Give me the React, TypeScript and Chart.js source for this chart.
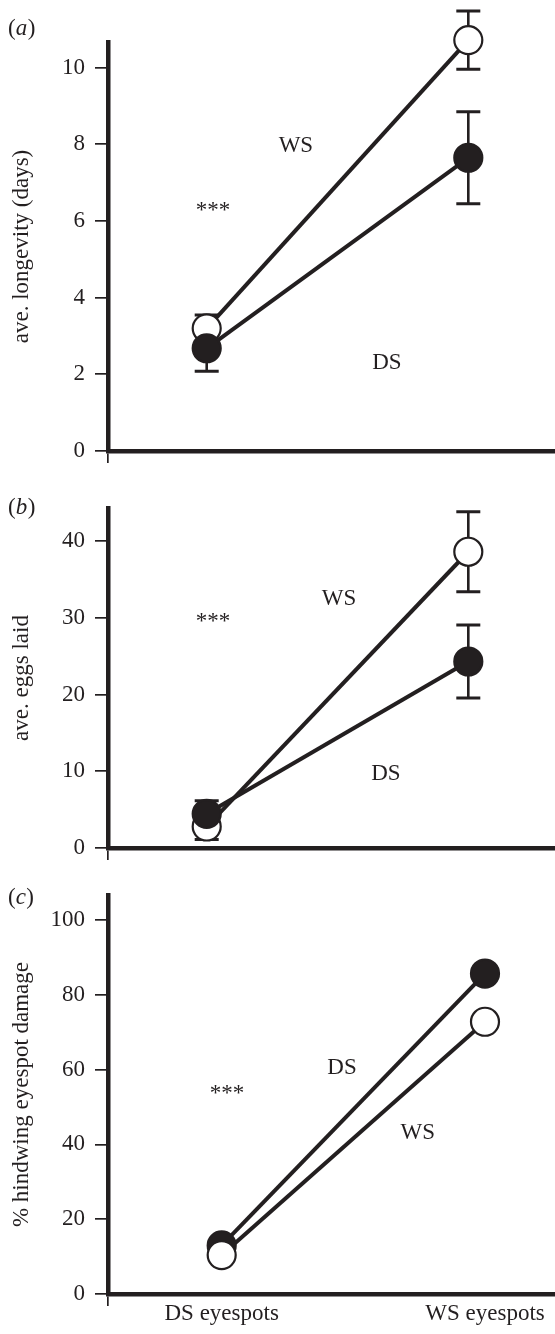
import React, { useEffect, useRef } from 'react';
import { Chart, registerables } from 'chart.js';

Chart.register(...registerables);

const INK = '#231f20';
const FONT = '"Liberation Serif", "Times New Roman", Times, serif';
const FS = 23;

// shared categories (positions 1 and 2 on the x axis)
const xPositions = [1, 2];
const xLabels = ['DS eyespots', 'WS eyespots'];

// (a) average longevity (days)
const longevityDS = [2.68, 7.65];
const longevityDSErr = [0.6, 1.2];
const longevityWS = [3.2, 10.72];
const longevityWSErr = [0.35, 0.76];
const longevityTicks = [0, 2, 4, 6, 8, 10];

// (b) average eggs laid
const eggsDS = [4.45, 24.3];
const eggsDSErr = [1.7, 4.75];
const eggsWS = [2.8, 38.6];
const eggsWSErr = [1.7, 5.2];
const eggsTicks = [0, 10, 20, 30, 40];

// (c) % hindwing eyespot damage
const damageDS = [13.0, 85.7];
const damageWS = [10.4, 72.8];
const damageTicks = [0, 20, 40, 60, 80, 100];

type Note = { text: string; x: number; y: number };
type Panel = {
  letter: string;
  letterBaseline: number;
  top: number;
  height: number;
  areaTop: number;
  areaBottom: number;
  yMax: number;
  xMin: number;
  xMax: number;
  title: string;
  ticks: number[];
  ds: number[];
  dsErr: number[] | null;
  ws: number[];
  wsErr: number[] | null;
  openOnTop: boolean;
  showXLabels: boolean;
  notes: Note[];
};

const panels: Panel[] = [
  {
    letter: 'a', letterBaseline: 35,
    top: 0, height: 470, areaTop: 42, areaBottom: 451, yMax: 10.67,
    xMin: 0.6227, xMax: 2.3314,
    title: 'ave. longevity (days)', ticks: longevityTicks,
    ds: longevityDS, dsErr: longevityDSErr, ws: longevityWS, wsErr: longevityWSErr,
    openOnTop: false, showXLabels: false,
    notes: [
      { text: 'WS', x: 1.341, y: 7.96 },
      { text: '***', x: 1.024, y: 6.25 },
      { text: 'DS', x: 1.689, y: 2.3 },
    ],
  },
  {
    letter: 'b', letterBaseline: 514,
    top: 470, height: 400, areaTop: 508, areaBottom: 848, yMax: 44.3,
    xMin: 0.6227, xMax: 2.3314,
    title: 'ave. eggs laid', ticks: eggsTicks,
    ds: eggsDS, dsErr: eggsDSErr, ws: eggsWS, wsErr: eggsWSErr,
    openOnTop: false, showXLabels: false,
    notes: [
      { text: 'WS', x: 1.506, y: 32.4 },
      { text: '***', x: 1.024, y: 29.4 },
      { text: 'DS', x: 1.685, y: 9.7 },
    ],
  },
  {
    letter: 'c', letterBaseline: 904,
    top: 870, height: 464, areaTop: 895, areaBottom: 1294, yMax: 106.7,
    xMin: 0.5682, xMax: 2.2659,
    title: '% hindwing eyespot damage', ticks: damageTicks,
    ds: damageDS, dsErr: null, ws: damageWS, wsErr: null,
    openOnTop: true, showXLabels: true,
    notes: [
      { text: 'DS', x: 1.457, y: 60.4 },
      { text: '***', x: 1.02, y: 53.6 },
      { text: 'WS', x: 1.745, y: 43.0 },
    ],
  },
];

function PanelChart({ p }: { p: Panel }) {
  const ref = useRef<HTMLCanvasElement | null>(null);

  useEffect(() => {
    const canvas = ref.current;
    if (!canvas) return;
    const errs = [p.dsErr, p.wsErr];

    const errorBars = {
      id: 'errorBars',
      beforeDatasetsDraw(chart: any) {
        const ctx = chart.ctx;
        const ys = chart.scales.y;
        ctx.save();
        ctx.strokeStyle = INK;
        errs.forEach((arr, di) => {
          if (!arr) return;
          const meta = chart.getDatasetMeta(di);
          const vals = chart.data.datasets[di].data as any[];
          meta.data.forEach((pt: any, j: number) => {
            const v = vals[j].y;
            const e = arr[j];
            const x = pt.x;
            const yTop = ys.getPixelForValue(v + e);
            const yBot = ys.getPixelForValue(v - e);
            ctx.lineWidth = 2.6;
            ctx.beginPath();
            ctx.moveTo(x, yTop);
            ctx.lineTo(x, yBot);
            ctx.stroke();
            ctx.lineWidth = 3;
            ctx.beginPath();
            ctx.moveTo(x - 12, yTop);
            ctx.lineTo(x + 12, yTop);
            ctx.moveTo(x - 12, yBot);
            ctx.lineTo(x + 12, yBot);
            ctx.stroke();
          });
        });
        ctx.restore();
      },
    };

    const notes = {
      id: 'notes',
      afterDraw(chart: any) {
        const ctx = chart.ctx;
        const xs = chart.scales.x;
        const ys = chart.scales.y;
        ctx.save();
        ctx.fillStyle = INK;
        ctx.textAlign = 'center';
        ctx.textBaseline = 'middle';
        ctx.font = `${FS}px ${FONT}`;
        p.notes.forEach((n) => {
          ctx.fillText(n.text, xs.getPixelForValue(n.x), ys.getPixelForValue(n.y));
        });
        // panel letter "(a)"
        ctx.textAlign = 'left';
        ctx.textBaseline = 'alphabetic';
        const base = p.letterBaseline - p.top;
        let x = 8;
        ctx.font = `${FS}px ${FONT}`;
        ctx.fillText('(', x, base);
        x += ctx.measureText('(').width;
        ctx.font = `italic ${FS}px ${FONT}`;
        ctx.fillText(p.letter, x, base);
        x += ctx.measureText(p.letter).width + 0.5;
        ctx.font = `${FS}px ${FONT}`;
        ctx.fillText(')', x, base);
        ctx.restore();
      },
    };

    const mk = (vals: number[]) => xPositions.map((x, i) => ({ x, y: vals[i] }));

    const chart = new Chart(canvas, {
      type: 'line',
      data: {
        datasets: [
          {
            label: 'DS',
            data: mk(p.ds),
            borderColor: INK,
            borderWidth: 4,
            pointRadius: 14,
            pointBorderWidth: 2.2,
            pointBackgroundColor: INK,
            pointBorderColor: INK,
            clip: false,
            order: p.openOnTop ? 1 : 0,
          } as any,
          {
            label: 'WS',
            data: mk(p.ws),
            borderColor: INK,
            borderWidth: 4,
            pointRadius: 14,
            pointBorderWidth: 2.2,
            pointBackgroundColor: '#ffffff',
            pointBorderColor: INK,
            clip: false,
            order: p.openOnTop ? 0 : 1,
          } as any,
        ],
      },
      options: {
        responsive: false,
        animation: false,
        devicePixelRatio: 1,
        events: [],
        layout: { autoPadding: false, padding: { top: p.areaTop - p.top, left: 0, right: 0, bottom: 0 } },
        plugins: { legend: { display: false }, tooltip: { enabled: false } },
        scales: {
          x: {
            type: 'linear',
            position: 'bottom',
            min: p.xMin,
            max: p.xMax,
            afterBuildTicks: (s: any) => {
              s.ticks = p.showXLabels
                ? [{ value: p.xMin }, ...xPositions.map((v) => ({ value: v }))]
                : [{ value: p.xMin }];
            },
            afterFit: (s: any) => {
              s.height = p.top + p.height - p.areaBottom;
              s.paddingLeft = 0;
              s.paddingRight = 0;
            },
            grid: {
              drawOnChartArea: false,
              drawTicks: true,
              tickLength: 12,
              lineWidth: 1.7,
              color: (c: any) => (c.index === 0 ? INK : 'rgba(0,0,0,0)'),
            },
            border: { display: true, color: INK, width: 4.5 },
            ticks: {
              display: p.showXLabels,
              autoSkip: false,
              maxRotation: 0,
              padding: -6,
              color: INK,
              font: { family: FONT, size: FS },
              callback: (_v: any, i: number) => (i === 0 ? '' : xLabels[i - 1]),
            },
          },
          y: {
            type: 'linear',
            min: 0,
            max: p.yMax,
            afterBuildTicks: (s: any) => {
              s.ticks = p.ticks.map((v) => ({ value: v }));
            },
            afterFit: (s: any) => {
              s.width = 108;
              s.paddingTop = 0;
              s.paddingBottom = 0;
            },
            grid: { drawOnChartArea: false, drawTicks: true, tickLength: 13, lineWidth: 1.7, color: INK },
            border: { display: true, color: INK, width: 4.5 },
            ticks: {
              autoSkip: false,
              padding: 10,
              color: INK,
              font: { family: FONT, size: FS },
            },
            title: {
              display: true,
              text: p.title,
              color: INK,
              font: { family: FONT, size: FS },
              padding: { top: 8, bottom: 0 },
            },
          },
        },
      } as any,
      plugins: [errorBars, notes],
    });

    return () => chart.destroy();
  }, [p]);

  return (
    <canvas
      ref={ref}
      width={555}
      height={p.height}
      style={{ position: 'absolute', left: 0, top: p.top, width: 555, height: p.height, display: 'block' }}
    />
  );
}

export default function App() {
  return (
    <div style={{ position: 'absolute', left: 0, top: 0, width: 555, height: 1334, background: '#ffffff', overflow: 'hidden' }}>
      {panels.map((p) => (
        <PanelChart key={p.letter} p={p} />
      ))}
    </div>
  );
}
